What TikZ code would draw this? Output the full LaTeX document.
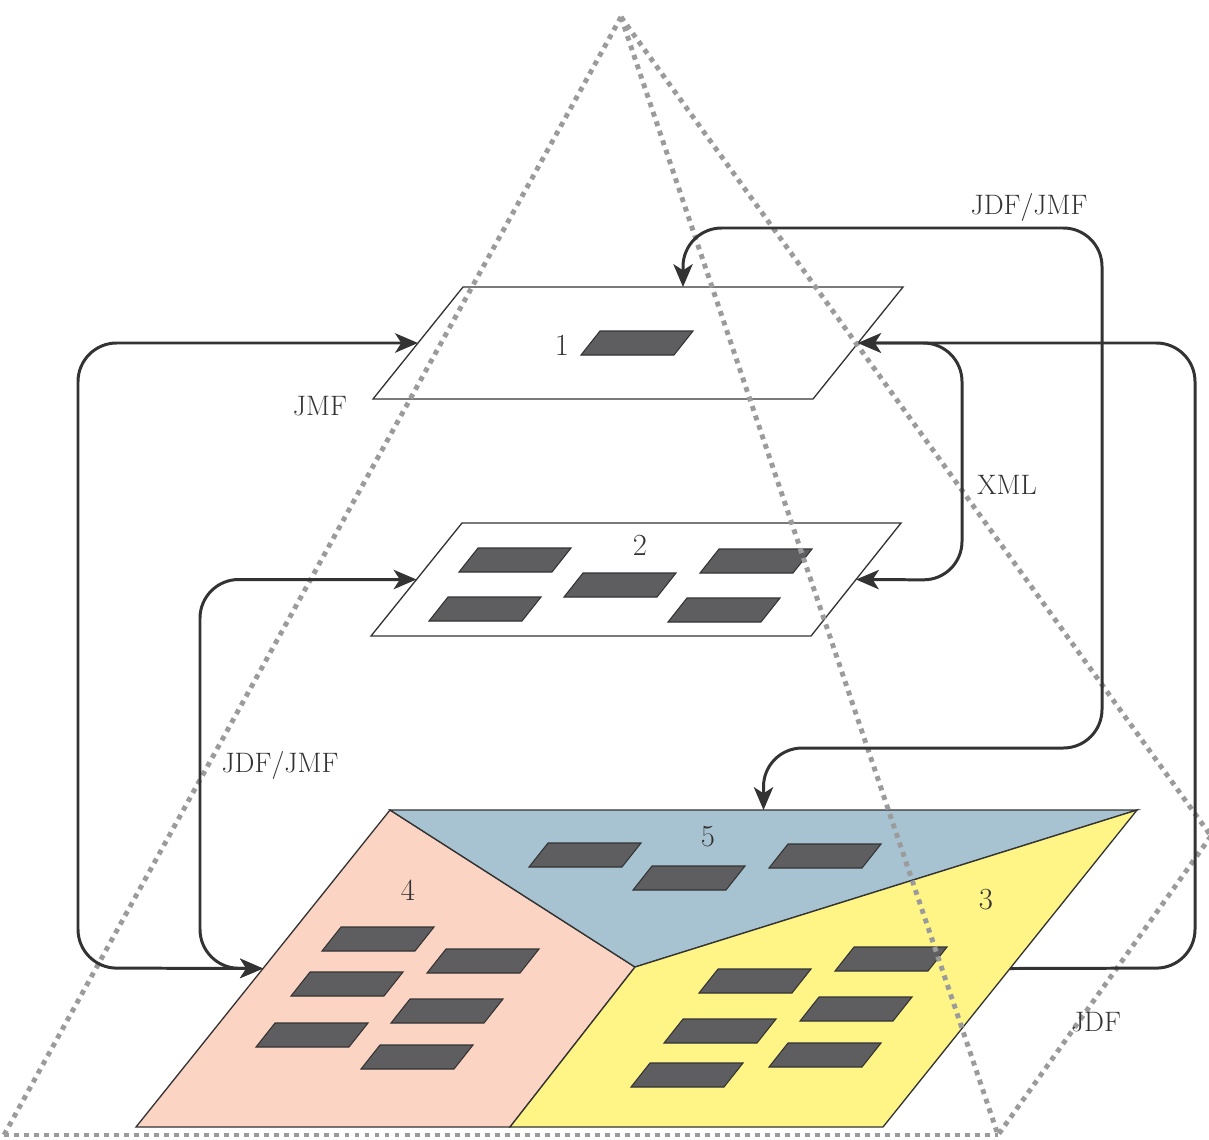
\documentclass[tikz,border=0pt]{standalone}
\usetikzlibrary{arrows.meta,calc}

\definecolor{darkline}{HTML}{333333}
\definecolor{dotgray}{HTML}{9B9B9B}
\definecolor{cellgray}{HTML}{5E5E60}
\definecolor{zonesalmon}{HTML}{FCD4C3}
\definecolor{zoneblue}{HTML}{A7C3D1}
\definecolor{zoneyellow}{HTML}{FFF587}

\tikzset{
  plane/.style={draw=darkline, line width=0.75pt},
  cell/.style={fill=cellgray, draw=darkline, line width=0.6pt},
  pyramid/.style={draw=dotgray, line width=2.8pt, dash pattern=on 2.8pt off 2.9pt},
  flow/.style={draw=darkline, line width=1.7pt, rounded corners=22pt},
  lbl/.style={font=\fontsize{16}{19}\selectfont, text=darkline},
  num/.style={font=\fontsize{17.5}{20}\selectfont, text=darkline},
}

% one machine cell: bottom-left corner, then a slanted box
\newcommand{\machinecell}[2]{%
  \filldraw[cell] (#1,#2) -- ++(93,0) -- ++(19,-24) -- ++(-93,0) -- cycle;}

\begin{document}
\begin{tikzpicture}[x={(0.02cm,0)}, y={(0,-0.02cm)},
    >={Stealth[length=13pt,width=11pt,inset=3.5pt]}]
  \useasboundingbox (0,0) rectangle (1209,1139);

  % level 1
  \coordinate (a1) at (463,287);
  \coordinate (b1) at (903,287);
  \coordinate (c1) at (813,399);
  \coordinate (d1) at (373,399);
  \filldraw[plane, fill=white] (a1) -- (b1) -- (c1) -- (d1) -- cycle;
  \machinecell{581}{355}
  \node[num] (n1) at (562,345) {1};

  % level 2
  \coordinate (a2) at (462,523);
  \coordinate (b2) at (901,523);
  \coordinate (c2) at (811,636);
  \coordinate (d2) at (371,636);
  \filldraw[plane, fill=white] (a2) -- (b2) -- (c2) -- (d2) -- cycle;
  \foreach \cx/\cy in {459/572, 429/621, 564/597, 700/573, 668/622}
    \machinecell{\cx}{\cy};
  \node[num] (n2) at (640,545) {2};

  % shop floor, split in three zones
  \coordinate (zTL) at (390,810);
  \coordinate (zTR) at (1137,810);
  \coordinate (zBR) at (883,1127);
  \coordinate (zBL) at (136,1127);
  \coordinate (zMid) at (635,967);
  \coordinate (zCut) at (510,1127);
  \filldraw[plane, fill=zonesalmon] (zTL) -- (zMid) -- (zCut) -- (zBL) -- cycle;
  \filldraw[plane, fill=zoneblue] (zTL) -- (zTR) -- (zMid) -- cycle;
  \filldraw[plane, fill=zoneyellow] (zMid) -- (zTR) -- (zBR) -- (zCut) -- cycle;

  \foreach \cx/\cy in {529/867, 633/890, 769/868}
    \machinecell{\cx}{\cy};
  \foreach \cx/\cy in {322/951, 427/973, 291/996, 391/1023, 256/1047, 361/1069}
    \machinecell{\cx}{\cy};
  \foreach \cx/\cy in {835/971, 699/993, 800/1021, 664/1043, 769/1067, 631/1087}
    \machinecell{\cx}{\cy};
  \node[num] (n5) at (708,837) {5};
  \node[num] (n4) at (408,890) {4};
  \node[num] (n3) at (986,900) {3};

  % dotted pyramid
  \begin{scope}
    \clip (0,0) rectangle (1209,1139);
    \coordinate (apex) at (621,17);
    \coordinate (baseL) at (4,1135);
    \coordinate (baseR) at (998,1135);
    \coordinate (baseB) at (1211,836);
    \draw[pyramid] (apex) -- (baseL);
    \draw[pyramid] (baseL) -- (baseR);
    \draw[pyramid] (apex) -- (baseR);
    \draw[pyramid] (apex) -- (baseB);
    \draw[pyramid] (baseB) -- (baseR);
  \end{scope}

  % attachment points on the planes
  \coordinate (p1W) at ($(a1)!0.5!(d1)$);
  \coordinate (p1E) at ($(b1)!0.5!(c1)$);
  \coordinate (p1N) at ($(a1)!0.5!(b1)$);
  \coordinate (p2W) at ($(a2)!0.5!(d2)$);
  \coordinate (p2E) at ($(b2)!0.5!(c2)$);
  \coordinate (zW) at ($(zTL)!0.5!(zBL)$);
  \coordinate (zE) at ($(zTR)!0.5!(zBR)$);
  \coordinate (zN) at ($(zTL)!0.5!(zTR)$);

  % message flows
  \draw[flow, <->] (p1W) -| (78,968) -- (zW);
  \draw[flow, <->] (p2W) -| (200,968) -- (zW);
  \draw[flow, <->] (p1E) -| (962,580) -- (p2E);
  \draw[flow, <-] (p1E) -| (1195,968) -- (zE);
  \draw[flow, <->] (p1N) |- (1102,228) -- (1102,748) -| (zN);

  \node[lbl] (jmf) at (320,406) {JMF};
  \node[lbl] (jdfjmfTop) at (1029,207) {JDF/JMF};
  \node[lbl] (xml) at (1007,485) {XML};
  \node[lbl] (jdfjmfLeft) at (280,765) {JDF/JMF};
  \node[lbl] (jdf) at (1096,1022) {JDF};
\end{tikzpicture}
\end{document}
